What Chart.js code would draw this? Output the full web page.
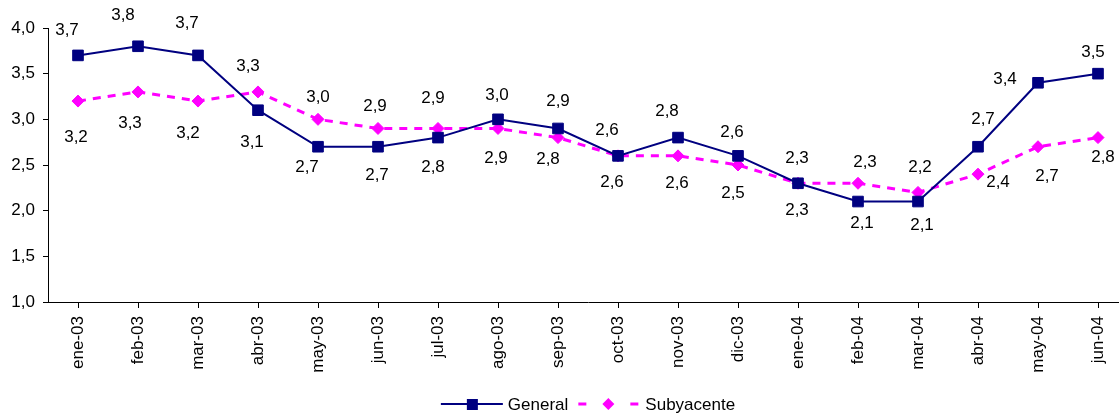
<!DOCTYPE html>
<html>
<head>
<meta charset="utf-8">
<script src="https://cdn.jsdelivr.net/npm/chart.js@4"></script>
<style>
	html, body { margin: 0; padding: 0; background: #fff; overflow: hidden; }
	#chart { position: absolute; left: 0; top: 0; }
</style>
</head>
<body>
<canvas id="chart" width="1160" height="414"></canvas>
<script>
"use strict";

const months = ["ene-03", "feb-03", "mar-03", "abr-03", "may-03", "jun-03", "jul-03", "ago-03", "sep-03",
	"oct-03", "nov-03", "dic-03", "ene-04", "feb-04", "mar-04", "abr-04", "may-04", "jun-04"];
const general = [3.7, 3.8, 3.7, 3.1, 2.7, 2.7, 2.8, 3.0, 2.9, 2.6, 2.8, 2.6, 2.3, 2.1, 2.1, 2.7, 3.4, 3.5];
const subyacente = [3.2, 3.3, 3.2, 3.3, 3.0, 2.9, 2.9, 2.9, 2.8, 2.6, 2.6, 2.5, 2.3, 2.3, 2.2, 2.4, 2.7, 2.8];

// where each value label sits relative to its point (dx, dy in px), as in the original
const generalLabelOffsets = [[-11, -25], [-15, -31], [-11, -32], [-6, 32], [-11, 21], [-1, 29], [-5, 30], [-1, -24],
	[0, -27], [-11, -26], [-11, -26], [-6, -24], [-1, 27], [4, 22], [4, 24], [5, -27], [-33, -3], [-5, -21]];
const subLabelOffsets = [[-2, 36], [-8, 31], [-10, 32], [-10, -26], [0, -22], [-3, -22], [-5, -30], [-2, 30],
	[-10, 22], [-6, 26], [-1, 27], [-5, 28], [-1, -25], [7, -21], [2, -25], [20, 8], [9, 30], [5, 20]];

const NAVY = "#000080";
const MAGENTA = "#FF00FF";
const FONT = "Arial, 'Liberation Sans', sans-serif";
const FONT_SIZE = 17;

function fmt(v) {
	return v.toFixed(1).replace(".", ",");
}

const valueLabels = {
	id: "valueLabels",
	afterDatasetsDraw(chart) {
		const ctx = chart.ctx;
		ctx.save();
		ctx.font = `${FONT_SIZE}px ${FONT}`;
		ctx.fillStyle = "#000";
		ctx.textAlign = "center";
		ctx.textBaseline = "middle";
		chart.data.datasets.forEach((ds, di) => {
			const meta = chart.getDatasetMeta(di);
			meta.data.forEach((pt, i) => {
				const off = ds.labelOffsets[i];
				ctx.fillText(fmt(ds.data[i]), pt.x + off[0], pt.y + off[1]);
			});
		});
		ctx.restore();
	}
};

const bottomLegend = {
	id: "bottomLegend",
	afterDraw(chart) {
		const ctx = chart.ctx;
		ctx.save();
		ctx.font = `${FONT_SIZE}px ${FONT}`;
		const wG = ctx.measureText("General").width;
		const wS = ctx.measureText("Subyacente").width;
		const total = 62 + 5 + wG + 10 + 60 + 7 + wS;
		const cx = (chart.chartArea.left + chart.chartArea.right) / 2;
		const y = 404;
		let x = cx - total / 2;

		// General: line with square
		ctx.strokeStyle = NAVY;
		ctx.lineWidth = 2;
		ctx.beginPath();
		ctx.moveTo(x, y);
		ctx.lineTo(x + 62, y);
		ctx.stroke();
		ctx.fillStyle = NAVY;
		ctx.fillRect(x + 31 - 5, y - 5, 11, 11);
		ctx.fillStyle = "#000";
		ctx.textBaseline = "middle";
		ctx.fillText("General", x + 67, y + 1);
		x += 67 + wG + 10;

		// Subyacente: dashed line with diamond
		ctx.strokeStyle = MAGENTA;
		ctx.lineWidth = 3;
		ctx.beginPath();
		ctx.moveTo(x, y); ctx.lineTo(x + 8, y);
		ctx.moveTo(x + 52, y); ctx.lineTo(x + 60, y);
		ctx.stroke();
		ctx.fillStyle = MAGENTA;
		ctx.beginPath();
		ctx.moveTo(x + 30 - 6, y);
		ctx.lineTo(x + 30, y - 6);
		ctx.lineTo(x + 30 + 6, y);
		ctx.lineTo(x + 30, y + 6);
		ctx.closePath();
		ctx.fill();
		ctx.fillStyle = "#000";
		ctx.fillText("Subyacente", x + 67, y + 1);
		ctx.restore();
	}
};

new Chart(document.getElementById("chart"), {
	type: "line",
	data: {
		labels: months,
		datasets: [
			{
				label: "General",
				data: general,
				labelOffsets: generalLabelOffsets,
				borderColor: NAVY,
				backgroundColor: NAVY,
				borderWidth: 2,
				pointStyle: "rect",
				pointRadius: 7.5,
				pointBorderWidth: 1,
				tension: 0,
			},
			{
				label: "Subyacente",
				data: subyacente,
				labelOffsets: subLabelOffsets,
				borderColor: MAGENTA,
				backgroundColor: MAGENTA,
				borderWidth: 3,
				borderDash: [8, 7],
				pointStyle: "rectRot",
				pointRadius: 6,
				pointBorderWidth: 1,
				tension: 0,
			},
		],
	},
	options: {
		responsive: false,
		animation: false,
		layout: {
			padding: { top: 28, right: 32, left: 0, bottom: 0 },
		},
		plugins: {
			legend: { display: false },
			tooltip: { enabled: false },
		},
		scales: {
			x: {
				offset: true,
				grid: {
					drawOnChartArea: false,
					tickLength: 6,
					color: "#000",
				},
				border: { color: "#000" },
				ticks: {
					autoSkip: false,
					minRotation: 90,
					maxRotation: 90,
					padding: 8,
					color: "#000",
					font: { family: FONT, size: FONT_SIZE },
				},
				afterFit(scale) {
					scale.height = 112;
				},
			},
			y: {
				min: 1,
				max: 4,
				grid: {
					drawOnChartArea: false,
					tickLength: 5,
					color: "#000",
				},
				border: { color: "#000" },
				ticks: {
					stepSize: 0.5,
					padding: 8,
					color: "#000",
					font: { family: FONT, size: FONT_SIZE },
					callback: v => fmt(v),
				},
				afterFit(scale) {
					scale.width = 48;
				},
			},
		},
	},
	plugins: [valueLabels, bottomLegend],
});
</script>
</body>
</html>
